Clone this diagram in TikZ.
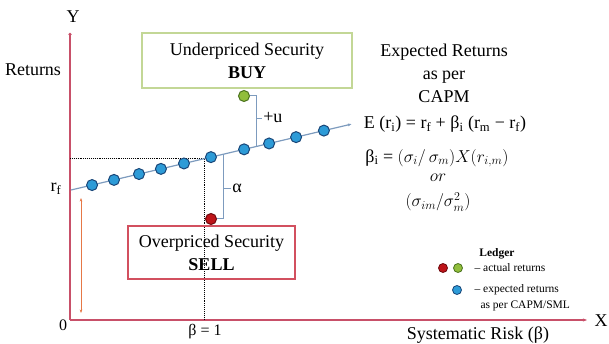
\documentclass[tikz,border=0pt]{standalone}
\usepackage{amsmath, amssymb}
\usepackage{fontspec}
\setmainfont{Liberation Serif}
\usetikzlibrary{arrows.meta, positioning}

\definecolor{axisred}{RGB}{200,80,105}
\definecolor{smlblue}{RGB}{125,155,190}
\definecolor{dotblue}{RGB}{45,155,215}
\definecolor{dotedge}{RGB}{25,70,120}
\definecolor{buygreen}{RGB}{145,190,60}
\definecolor{buyedge}{RGB}{75,115,30}
\definecolor{sellred}{RGB}{190,20,25}
\definecolor{selledge}{RGB}{110,10,15}
\definecolor{buybox}{RGB}{195,215,150}
\definecolor{sellbox}{RGB}{210,80,95}
\definecolor{rfarrow}{RGB}{230,120,70}

\tikzset{
  big/.style={font=\fontsize{18}{23}\selectfont},
  mid/.style={font=\fontsize{16}{19}\selectfont},
  small/.style={font=\fontsize{11.5}{13}\selectfont},
  expdot/.style={circle, draw=dotedge, fill=dotblue, line width=1pt, minimum size=11pt, inner sep=0pt},
  actdot/.style={circle, line width=1pt, minimum size=11pt, inner sep=0pt},
  legdot/.style={circle, line width=0.8pt, minimum size=9pt, inner sep=0pt},
  tradebox/.style={draw, line width=1.1pt, align=center, big},
  bracket/.style={draw=smlblue, line width=1pt},
}

\begin{document}
\begin{tikzpicture}[x=1pt, y=-1pt]
  \useasboundingbox (0,0) rectangle (609,344);

  % axes
  \coordinate (O) at (70,320);
  \coordinate (ytop) at (70,33);
  \coordinate (xend) at (587,320);
  \draw[axisred, line width=1.2pt, -{Circle[length=3pt]}] (O) -- (ytop);
  \draw[axisred, line width=1.2pt, -{Stealth[length=4pt]}] (O) -- (xend);

  \node[big] (ylab) at (73,17) {Y};
  \node[big] (xlab) at (601,321) {X};
  \node[big] (ret) at (33,70) {Returns};
  \node[mid] (zero) at (63,325) {0};
  \node[big] (rflab) at (56,189) {r\textsubscript{f}};
  \node[mid] (betaone) at (205,332) {β = 1};
  \node[big] (xrisk) at (478,335) {Systematic Risk (β)};

  % risk free return
  \coordinate (ra) at (81,198);
  \coordinate (rb) at (81,313);
  \draw[rfarrow, line width=0.7pt, {Stealth[length=3.5pt]}-{Stealth[length=3.5pt]}] (ra) -- (rb);

  % market beta
  \coordinate (ymark) at (70,158);
  \coordinate (bmark) at (204,158);
  \coordinate (bx) at (204,320);
  \draw[densely dotted, line width=0.9pt] (ymark) -- (bmark) -- (bx);

  % security market line
  \coordinate (rf) at (71,190);
  \coordinate (smlend) at (352,124);
  \draw[smlblue, line width=1.2pt, -{Latex[length=4pt]}] (rf) -- (smlend);

  % alpha brackets
  \node[actdot, draw=selledge, fill=sellred] (sell) at (211,219) {};
  \coordinate (abot) at (223,219);
  \coordinate (atop) at (223,154.3);
  \draw[bracket] (sell) -- (abot) -- (atop);
  \coordinate (atick) at (223,188);
  \draw[bracket, line width=0.6pt] (atick) -- ++(8,0) node[right, big, inner sep=1pt] (alab) {α};

  \node[actdot, draw=buyedge, fill=buygreen] (buy) at (244,96) {};
  \coordinate (utop) at (256,96);
  \coordinate (ubot) at (256,146.5);
  \draw[bracket] (buy) -- (utop) -- (ubot);
  \coordinate (utick) at (256,118);
  \draw[bracket, line width=0.6pt] (utick) -- ++(6,0) node[right, big, inner sep=1pt] (ulab) {+u};

  \foreach \p [count=\i] in {.075,.153,.242,.320,.402,.498,.616,.705,.801,.900}
    \path (rf) -- (smlend) node[expdot, pos=\p] (d\i) {};

  % trade boxes
  \node[tradebox, draw=buybox, minimum width=210pt, minimum height=55pt] (under) at (247,60.5) {Underpriced Security\\\textbf{BUY}};
  \node[tradebox, draw=sellbox, minimum width=167pt, minimum height=53pt] (over) at (211.5,252.5) {Overpriced Security\\\textbf{SELL}};

  % CAPM
  \node[big, align=center] (capm) at (444,73) {Expected Returns\\as per\\CAPM};
  \node[big] (eqn) at (445,124) {E (r\textsubscript{i}) = r\textsubscript{f} + β\textsubscript{i} (r\textsubscript{m} − r\textsubscript{f})};
  \node[big] (betai) at (437,158) {β\textsubscript{i} = $(\sigma_i/\,\sigma_m)X(r_{i,m})$};
  \node[big] (ortxt) at (438,178) {$or$};
  \node[big] (var) at (438,202) {$(\sigma_{im}/\sigma_m^2)$};

  % ledger
  \node[small] (ledger) at (497,254) {\textbf{Ledger}};
  \node[legdot, draw=selledge, fill=sellred] (lred) at (443,268) {};
  \node[legdot, draw=buyedge, fill=buygreen] (lgreen) at (458,268) {};
  \node[legdot, draw=dotedge, fill=dotblue] (lblue) at (457,290) {};
  \node[small, anchor=west] (act) at (471,268) {– actual returns};
  \node[small, anchor=west] (expa) at (471,290) {– expected returns};
  \node[small, anchor=west] (expb) at (477,306) {as per CAPM/SML};
\end{tikzpicture}
\end{document}
